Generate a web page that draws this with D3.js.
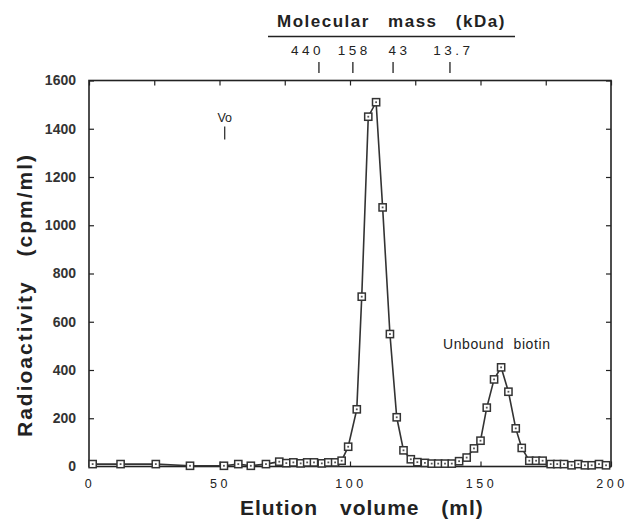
<!DOCTYPE html>
<html>
<head>
<meta charset="utf-8">
<script src="https://cdn.jsdelivr.net/npm/d3@7"></script>
<style>
  body { margin: 0; background: #fff; }
  text { font-family: "Liberation Sans", Arial, Helvetica, sans-serif; fill: #222; }
</style>
</head>
<body>
<svg id="chart" width="628" height="520"></svg>
<script>
// Elution volume (ml) of each fraction
const volume = [1.4, 12.1, 25.6, 38.7, 51.7, 57.2, 62.0, 67.8, 72.9, 75.6,
  78.3, 81.1, 83.6, 86.2, 89.2, 91.7, 94.3, 96.8, 99.3, 102.6,
  104.5, 107.0, 110.0, 112.5, 115.3, 117.9, 120.5, 123.3, 125.8, 128.7,
  131.3, 133.8, 136.4, 139.0, 141.8, 144.7, 147.5, 150.0, 152.4, 155.2,
  157.9, 160.7, 163.5, 165.8, 168.7, 171.3, 173.8, 176.9, 179.4, 182.0,
  184.9, 187.5, 190.0, 192.6, 195.4, 198.1];

// Radioactivity (cpm/ml)
const radioactivity = [10, 10, 10, 3, 3, 10, 3, 10, 20, 14,
  17, 13, 17, 17, 13, 17, 17, 24, 82, 237,
  704, 1450, 1510, 1074, 549, 204, 67, 30, 18, 15,
  12, 12, 12, 12, 22, 37, 75, 107, 244, 361,
  411, 310, 158, 77, 24, 24, 24, 10, 10, 10,
  5, 10, 5, 5, 10, 5];

const xTicks = [0, 50, 100, 150, 200];
const xMinorTicks = [0, 25, 50, 75, 100, 125, 150, 175, 200];
const yTicks = [0, 200, 400, 600, 800, 1000, 1200, 1400, 1600];

// Molecular mass standards (kDa) and their elution volumes
const massLabels = ["440", "158", "43", "13.7"];
const massVolumes = [88.1, 101.1, 116.5, 138.3];
const voVolume = 52;

const points = volume.map((v, i) => ({v: v, r: radioactivity[i]}));

const svg = d3.select("#chart");
const margin = {top: 80.5, right: 17, bottom: 53.5, left: 89};
const width = 628 - margin.left - margin.right,
      height = 520 - margin.top - margin.bottom;

const g = svg.append("g").attr("transform", `translate(${margin.left},${margin.top})`);

const x = d3.scaleLinear().domain([0, 200]).range([0, width]);
const y = d3.scaleLinear().domain([0, 1600]).range([height, 0]);

const ink = "#222";

// frame
g.append("rect")
  .attr("width", width).attr("height", height)
  .attr("fill", "none").attr("stroke", ink).attr("stroke-width", 1.6);

// inward ticks, bottom and top
g.append("g")
  .attr("transform", `translate(0,${height})`)
  .call(d3.axisBottom(x).tickValues(xMinorTicks).tickSize(-5).tickFormat(""))
  .call(a => a.select(".domain").remove())
  .selectAll("line").attr("stroke", ink).attr("stroke-width", 1.2);

g.append("g")
  .call(d3.axisTop(x).tickValues(xMinorTicks).tickSize(-5).tickFormat(""))
  .call(a => a.select(".domain").remove())
  .selectAll("line").attr("stroke", ink).attr("stroke-width", 1.2);

// x labels (spaced digits)
g.selectAll("text.xlab")
  .data(xTicks)
  .enter().append("text")
    .attr("class", "xlab")
    .attr("x", d => x(d) + 1)
    .attr("y", height + 21)
    .attr("text-anchor", "middle")
    .style("font-size", "12.5px")
    .style("letter-spacing", "3.5px")
    .text(d => d);

// y axis ticks left and right
g.append("g")
  .call(d3.axisLeft(y).tickValues(yTicks).tickSize(-5).tickPadding(13).tickFormat(d3.format("d")))
  .call(a => a.select(".domain").remove())
  .call(a => a.selectAll("line").attr("stroke", ink).attr("stroke-width", 1.2))
  .selectAll("text")
    .style("font-size", "14px")
    .style("font-weight", "bold")
    .style("fill", "#333");

g.append("g")
  .attr("transform", `translate(${width},0)`)
  .call(d3.axisRight(y).tickValues(yTicks).tickSize(-5).tickFormat(""))
  .call(a => a.select(".domain").remove())
  .selectAll("line").attr("stroke", ink).attr("stroke-width", 1.2);

// line
const line = d3.line().x(d => x(d.v)).y(d => y(d.r));
g.append("path")
  .datum(points)
  .attr("fill", "none")
  .attr("stroke", "#333")
  .attr("stroke-width", 1.6)
  .attr("d", line);

// square markers with centre dot
const mk = g.selectAll("g.mk")
  .data(points)
  .enter().append("g")
    .attr("class", "mk")
    .attr("transform", d => `translate(${x(d.v)},${y(d.r)})`);
mk.append("rect")
  .attr("x", -3.6).attr("y", -3.6).attr("width", 7.2).attr("height", 7.2)
  .attr("fill", "#fff").attr("stroke", "#333").attr("stroke-width", 1.5);
mk.append("rect")
  .attr("x", -0.9).attr("y", -0.9).attr("width", 1.8).attr("height", 1.8)
  .attr("fill", "#555");

// Vo marker
g.append("text")
  .attr("x", x(voVolume))
  .attr("y", 41)
  .attr("text-anchor", "middle")
  .style("font-size", "12.5px")
  .text("Vo");
g.append("line")
  .attr("x1", x(voVolume)).attr("x2", x(voVolume))
  .attr("y1", 46).attr("y2", 59)
  .attr("stroke", ink).attr("stroke-width", 1.2);

// Unbound biotin label
g.append("text")
  .attr("x", 354)
  .attr("y", 268.5)
  .style("font-size", "14px")
  .style("letter-spacing", "0.6px")
  .style("word-spacing", "5px")
  .text("Unbound biotin");

// Molecular mass scale above the plot
const massDx = [-13, 0, 5, 2];
svg.append("text")
  .attr("x", 277)
  .attr("y", 27)
  .style("font-size", "17px")
  .style("font-weight", "bold")
  .style("letter-spacing", "1.5px")
  .style("word-spacing", "12px")
  .text("Molecular mass (kDa)");
svg.append("line")
  .attr("x1", 268).attr("x2", 515)
  .attr("y1", 36.5).attr("y2", 36.5)
  .attr("stroke", ink).attr("stroke-width", 1.3);

svg.selectAll("line.mass")
  .data(massVolumes)
  .enter().append("line")
    .attr("class", "mass")
    .attr("x1", d => margin.left + x(d)).attr("x2", d => margin.left + x(d))
    .attr("y1", 62).attr("y2", 73)
    .attr("stroke", ink).attr("stroke-width", 1.3);

svg.selectAll("text.mass")
  .data(massVolumes)
  .enter().append("text")
    .attr("class", "mass")
    .attr("x", (d, i) => margin.left + x(d) + massDx[i] + 1.5)
    .attr("y", 55)
    .attr("text-anchor", "middle")
    .style("font-size", "13.5px")
    .style("letter-spacing", "3.5px")
    .text((d, i) => massLabels[i]);

// axis titles
svg.append("text")
  .attr("x", 240)
  .attr("y", 515)
  .style("font-size", "21px")
  .style("font-weight", "bold")
  .style("letter-spacing", "1px")
  .style("word-spacing", "15px")
  .text("Elution volume (ml)");

svg.append("text")
  .attr("transform", "translate(32,437) rotate(-90)")
  .attr("x", 0)
  .attr("y", 0)
  .style("font-size", "21px")
  .style("font-weight", "bold")
  .style("letter-spacing", "2px")
  .style("word-spacing", "16px")
  .text("Radioactivity (cpm/ml)");
</script>
</body>
</html>
